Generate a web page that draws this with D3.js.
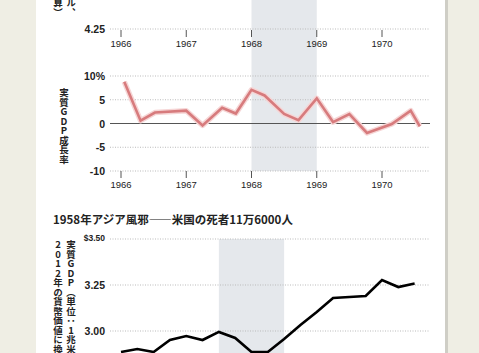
<!DOCTYPE html>
<html>
<head>
<meta charset="utf-8">
<script src="https://cdn.jsdelivr.net/npm/d3@7"></script>
<style>
  body { margin: 0; background: #efeee4; }
  svg { display: block; }
  text { font-family: "Liberation Sans", Arial, sans-serif; fill: #222; }
  .jp { font-family: "Noto Sans CJK JP", sans-serif; }
  .grid line { stroke: #bbb; stroke-dasharray: 1,1.5; }
</style>
</head>
<body>
<div id="chart"></div>
<script>
// quarterly real GDP growth 1966-1970 (%)
var growthDates = [1966.05, 1966.3, 1966.52, 1967.0, 1967.25, 1967.55, 1967.76, 1968.0, 1968.2,
                   1968.5, 1968.72, 1969.0, 1969.25, 1969.5, 1969.77, 1970.15, 1970.44, 1970.58];
var growthValues = [8.8, 0.6, 2.3, 2.7, -0.4, 3.3, 2.1, 7.1, 5.9,
                    2.0, 0.7, 5.3, 0.3, 2.0, -2.0, -0.1, 2.7, -0.6];
var yearTicks = [1966, 1967, 1968, 1969, 1970];
var growthTicks = [10, 5, 0, -5, -10];
var band1 = [1968, 1969];

// real GDP, trillions of 2012 dollars, quarterly from 1956
var gdpDates = [1956, 1956.25, 1956.5, 1956.75, 1957, 1957.25, 1957.5, 1957.75, 1958, 1958.25,
                1958.5, 1958.75, 1959, 1959.25, 1959.5, 1959.75, 1960, 1960.25, 1960.5];
var gdpValues = [2.886, 2.902, 2.886, 2.951, 2.973, 2.951, 2.995, 2.962, 2.886, 2.886,
                 2.957, 3.033, 3.103, 3.179, 3.185, 3.190, 3.277, 3.239, 3.258];
var gdpTicks = [3.50, 3.25, 3.00];
var band2 = [1957.5, 1958.5];

var W = 479, H = 353;
var panelL = 36, panelR = 445;
var gridL = 110, gridR = 430;

var svg = d3.select("#chart").append("svg")
  .attr("width", W).attr("height", H);

// white panel with a soft edge on the right
svg.append("rect").attr("x", panelL).attr("y", 0)
  .attr("width", panelR - panelL).attr("height", H).attr("fill", "#fff");
svg.append("rect").attr("x", panelR).attr("y", 0)
  .attr("width", 3).attr("height", H).attr("fill", "#cfcec6");

// x scales (same pixel spacing in both charts)
var x = d3.scaleLinear().domain([1966, 1970]).range([121, 382]);
var x2 = d3.scaleLinear().domain([1956, 1960]).range([121, 382]);

// ---- top: tail of previous chart + growth chart ----
var yG = d3.scaleLinear().domain([-10, 10]).range([171, 76]);

svg.append("rect")
  .attr("x", x(band1[0])).attr("y", 0)
  .attr("width", x(band1[1]) - x(band1[0]))
  .attr("height", yG(-10))
  .attr("fill", "#e5e8ec");

// the 4.25 line of the chart above
var topY = 29;
svg.append("line").attr("class", "dot")
  .attr("x1", gridL).attr("x2", gridR).attr("y1", topY).attr("y2", topY)
  .attr("stroke", "#bbb").attr("stroke-dasharray", "1,1.5");
svg.append("text").attr("x", 105).attr("y", topY + 4)
  .attr("text-anchor", "end").attr("font-size", 10.5).attr("font-weight", "bold")
  .attr("fill", "#333").text("4.25");

function yearAxis(y0) {
  var g = svg.append("g");
  g.selectAll("line").data(yearTicks).enter().append("line")
    .attr("x1", function(d) { return x(d); }).attr("x2", function(d) { return x(d); })
    .attr("y1", y0).attr("y2", y0 + 7)
    .attr("stroke", "#555").attr("stroke-width", 1);
  g.selectAll("text").data(yearTicks).enter().append("text")
    .attr("x", function(d) { return x(d); }).attr("y", y0 + 17)
    .attr("text-anchor", "middle").attr("font-size", 9.5)
    .attr("fill", "#333").text(function(d) { return d; });
}
yearAxis(topY + 1);

// leftover vertical label of the chart above
svg.append("text").attr("class", "jp")
  .attr("x", 71).attr("y", 17)
  .attr("text-anchor", "end").attr("font-size", 9.5).attr("font-weight", "bold")
  .style("writing-mode", "vertical-rl").style("text-orientation", "upright")
  .text("実質GDP（単位：1兆米ドル、");
svg.append("text").attr("class", "jp")
  .attr("x", 58).attr("y", 17)
  .attr("text-anchor", "end").attr("font-size", 9.5).attr("font-weight", "bold")
  .style("writing-mode", "vertical-rl").style("text-orientation", "upright")
  .text("2012年の貨幣価値に換算）");

// growth gridlines
svg.append("g").attr("class", "grid")
  .selectAll("line").data(growthTicks.filter(function(d) { return d != 0; }))
  .enter().append("line")
    .attr("x1", gridL).attr("x2", gridR)
    .attr("y1", function(d) { return yG(d); }).attr("y2", function(d) { return yG(d); });
svg.append("line")
  .attr("x1", gridL).attr("x2", gridR).attr("y1", yG(0)).attr("y2", yG(0))
  .attr("stroke", "#555").attr("stroke-width", 1);

svg.append("g").selectAll("text").data(growthTicks).enter().append("text")
  .attr("x", 105).attr("y", function(d) { return yG(d) + 4; })
  .attr("text-anchor", "end").attr("font-size", 10.5).attr("font-weight", "bold")
  .attr("fill", "#333")
  .text(function(d) { return d == 10 ? "10%" : d; });

yearAxis(yG(-10));

svg.append("text").attr("class", "jp")
  .attr("x", 64).attr("y", 88)
  .attr("font-size", 9.5).attr("font-weight", "bold")
  .style("writing-mode", "vertical-rl").style("text-orientation", "upright")
  .text("実質GDP成長率");

var growthData = growthDates.map(function(d, i) { return [d, growthValues[i]]; });
var lineG = d3.line()
  .x(function(d) { return x(d[0]); })
  .y(function(d) { return yG(d[1]); });

svg.append("path").datum(growthData)
  .attr("d", lineG).attr("fill", "none")
  .attr("stroke", "#f6d6d6").attr("stroke-width", 5.5)
  .attr("stroke-linejoin", "round");
svg.append("path").datum(growthData)
  .attr("d", lineG).attr("fill", "none")
  .attr("stroke", "#d77b7d").attr("stroke-width", 2.6)
  .attr("stroke-linejoin", "miter");

// ---- bottom: 1958 Asian flu ----
var yD = d3.scaleLinear().domain([3.00, 3.50]).range([331, 239]);

svg.append("text").attr("class", "jp")
  .attr("x", 53).attr("y", 224)
  .attr("font-size", 11.5).attr("font-weight", "bold")
  .attr("fill", "#222")
  .text("1958年アジア風邪――米国の死者11万6000人");

svg.append("rect")
  .attr("x", x2(band2[0])).attr("y", yD(3.50))
  .attr("width", x2(band2[1]) - x2(band2[0]))
  .attr("height", H - yD(3.50))
  .attr("fill", "#e5e8ec");

svg.append("g").attr("class", "grid")
  .selectAll("line").data(gdpTicks).enter().append("line")
    .attr("x1", gridL).attr("x2", gridR)
    .attr("y1", function(d) { return yD(d); }).attr("y2", function(d) { return yD(d); });

svg.append("g").selectAll("text").data(gdpTicks).enter().append("text")
  .attr("x", 105).attr("y", function(d) { return d == 3.5 ? yD(d) + 2 : yD(d) + 4; })
  .attr("text-anchor", "end")
  .attr("font-size", function(d) { return d == 3.5 ? 8.5 : 10.5; })
  .attr("font-weight", "bold").attr("fill", "#333")
  .text(function(d) { return d == 3.5 ? "$3.50" : d.toFixed(2); });

svg.append("text").attr("class", "jp")
  .attr("x", 71).attr("y", 240)
  .attr("font-size", 9.5).attr("font-weight", "bold")
  .style("writing-mode", "vertical-rl").style("text-orientation", "upright")
  .text("実質GDP（単位：1兆米ドル、");
svg.append("text").attr("class", "jp")
  .attr("x", 58).attr("y", 240)
  .attr("font-size", 9.5).attr("font-weight", "bold")
  .style("writing-mode", "vertical-rl").style("text-orientation", "upright")
  .text("2012年の貨幣価値に換算）");

var gdpData = gdpDates.map(function(d, i) { return [d, gdpValues[i]]; });
var lineD = d3.line()
  .x(function(d) { return x2(d[0]); })
  .y(function(d) { return yD(d[1]); });

svg.append("path").datum(gdpData)
  .attr("d", lineD).attr("fill", "none")
  .attr("stroke", "#000").attr("stroke-width", 2.6);
</script>
</body>
</html>
